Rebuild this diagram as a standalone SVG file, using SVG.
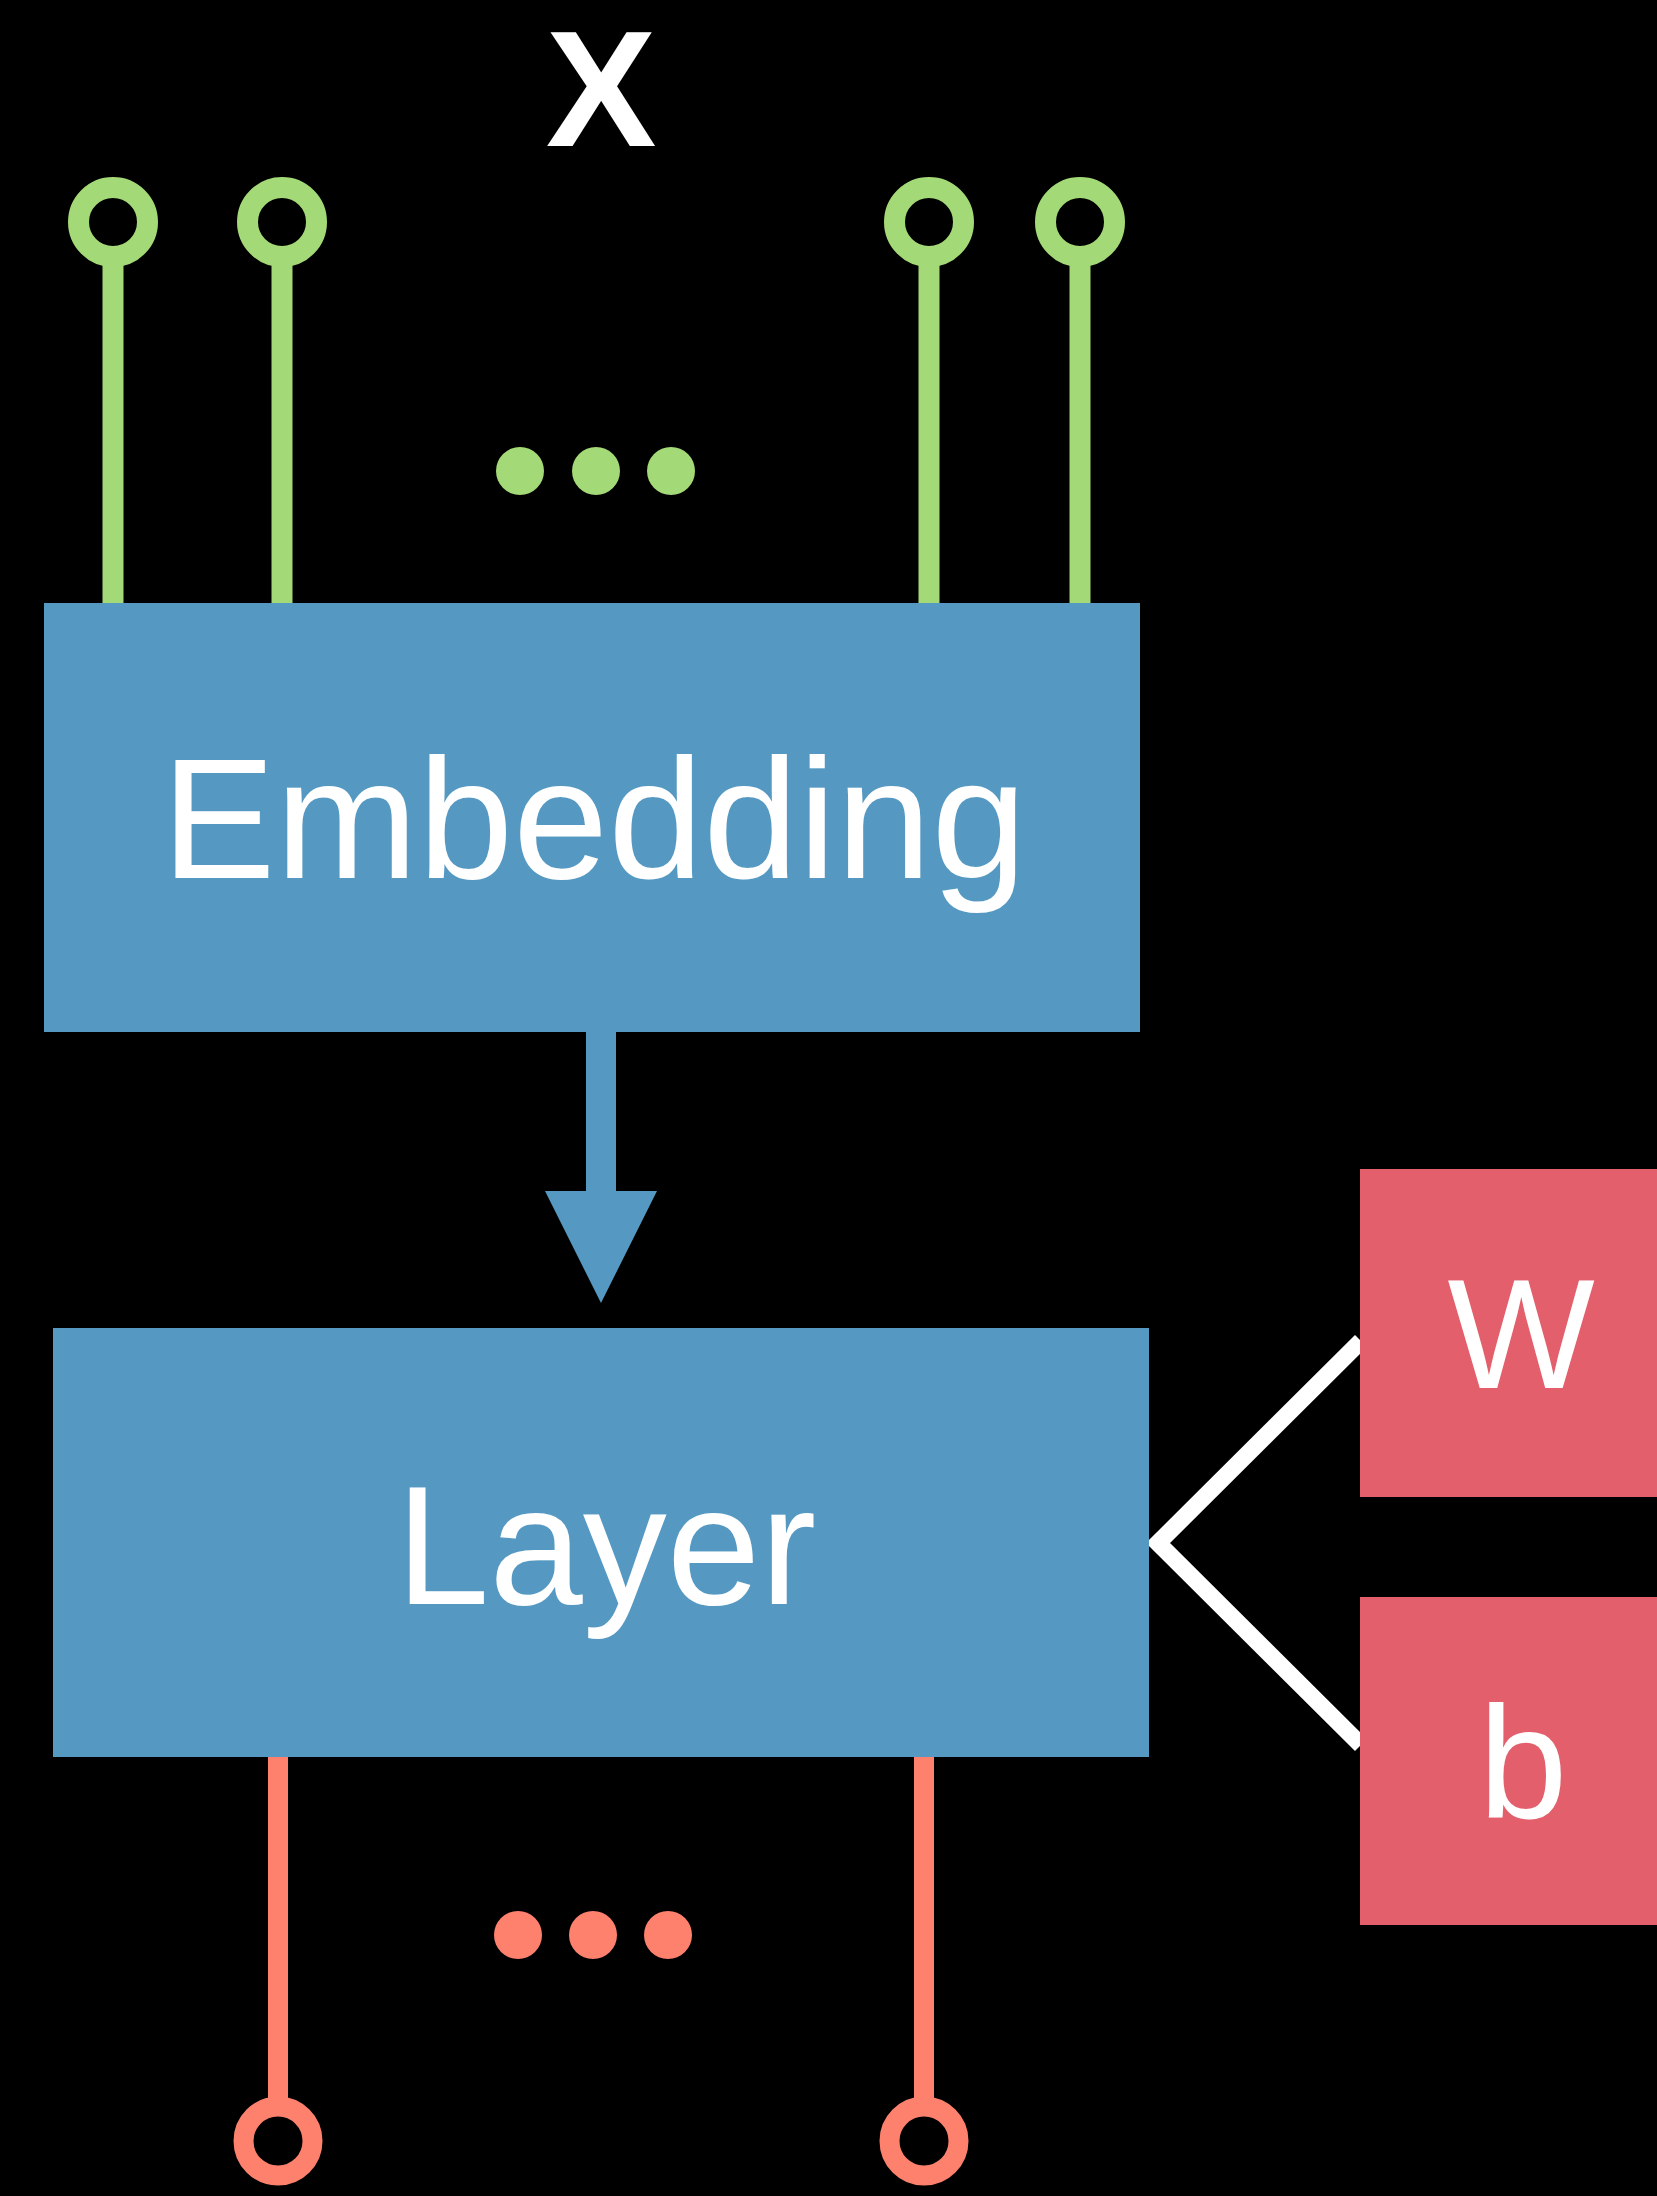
<svg xmlns="http://www.w3.org/2000/svg" width="1657" height="2196" viewBox="0 0 1657 2196">
<style>
.in{stroke:#a3d977;stroke-width:21;fill:none}
.out{stroke:#fe816e;stroke-width:20;fill:none}
.lbl{font-family:"Liberation Sans",Arial,sans-serif;fill:#ffffff;text-anchor:middle}
</style>
<rect x="0" y="0" width="1657" height="2196" fill="#000000"/>
<g id="connectors">
  <line class="in" x1="113" y1="256" x2="113" y2="603"/>
  <line class="in" x1="282" y1="256" x2="282" y2="603"/>
  <line class="in" x1="929" y1="256" x2="929" y2="603"/>
  <line class="in" x1="1080" y1="256" x2="1080" y2="603"/>
  <rect x="586" y="1031" width="30" height="161" fill="#5599c3"/>
  <polygon points="545,1191 657,1191 601,1303" fill="#5599c3"/>
  <polyline points="1361,1341 1158,1543 1361,1745" fill="none" stroke="#ffffff" stroke-width="17" stroke-linejoin="miter"/>
  <line class="out" x1="278" y1="1756" x2="278" y2="2107"/>
  <line class="out" x1="924" y1="1756" x2="924" y2="2107"/>
</g>
<g id="input-x">
  <text class="lbl" x="601" y="146" font-size="166" font-weight="bold">X</text>
  <circle class="in" cx="113" cy="222" r="34.5"/>
  <circle class="in" cx="282" cy="222" r="34.5"/>
  <circle class="in" cx="929" cy="222" r="34.5"/>
  <circle class="in" cx="1080" cy="222" r="34.5"/>
  <circle cx="520" cy="471" r="24" fill="#a3d977"/>
  <circle cx="596" cy="471" r="24" fill="#a3d977"/>
  <circle cx="671" cy="471" r="24" fill="#a3d977"/>
</g>
<g id="embedding">
  <rect x="44" y="603" width="1096" height="429" fill="#5599c3"/>
  <text class="lbl" x="594" y="878" font-size="171">Embedding</text>
</g>
<g id="layer">
  <rect x="53" y="1328" width="1096" height="429" fill="#5599c3"/>
  <text class="lbl" x="606" y="1604" font-size="168">Layer</text>
</g>
<g id="w">
  <rect x="1360" y="1169" width="330" height="328" fill="#e35f6b"/>
  <text class="lbl" x="1521" y="1388" font-size="156">W</text>
</g>
<g id="b">
  <rect x="1360" y="1597" width="330" height="328" fill="#e35f6b"/>
  <text class="lbl" x="1523" y="1818" font-size="160">b</text>
</g>
<g id="outputs">
  <circle class="out" cx="278" cy="2141" r="34.5"/>
  <circle class="out" cx="924" cy="2141" r="34.5"/>
  <circle cx="518" cy="1935" r="24" fill="#fe816e"/>
  <circle cx="593" cy="1935" r="24" fill="#fe816e"/>
  <circle cx="668" cy="1935" r="24" fill="#fe816e"/>
</g>
</svg>
